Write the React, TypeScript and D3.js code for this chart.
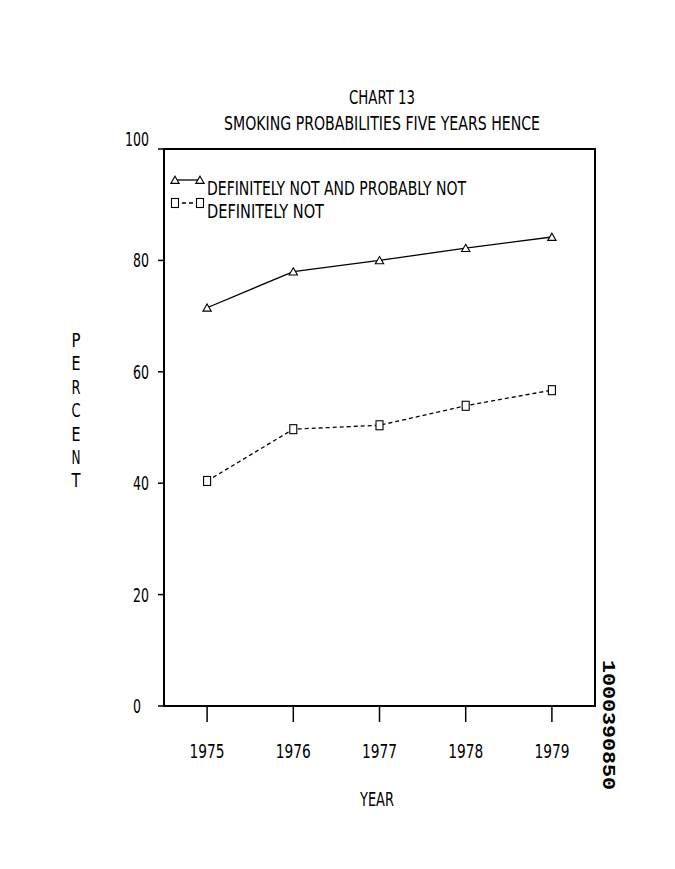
import React from "react";
import * as d3 from "d3";

const years = [1975, 1976, 1977, 1978, 1979];
const notAndProbablyNot = [71.5, 78.0, 80.0, 82.2, 84.2];
const definitelyNot = [40.4, 49.7, 50.4, 53.9, 56.7];
const yTicks = [0, 20, 40, 60, 80, 100];
const titleLines = ["CHART 13", "SMOKING PROBABILITIES FIVE YEARS HENCE"];
const seriesNames = ["DEFINITELY NOT AND PROBABLY NOT", "DEFINITELY NOT"];
const yLabel = "PERCENT";
const xLabel = "YEAR";
const docNumber = "1000390850";

const FONT = "'Liberation Sans Narrow', 'DejaVu Sans Condensed', 'Roboto Condensed', 'Liberation Sans', sans-serif";

const W = 675;
const H = 869;
const left = 164;
const right = 595;
const top = 149;
const bottom = 706;

export default function App() {
  const x = d3.scaleLinear().domain([1974.5, 1979.5]).range([left, right]);
  const y = d3.scaleLinear().domain([0, 100]).range([bottom, top]);

  const line = d3
    .line<number>()
    .x((_, i) => x(years[i]))
    .y((d) => y(d));

  const tri = d3.symbol(d3.symbolTriangle, 30)() as string;

  const Tri = ({ cx, cy }: { cx: number; cy: number }) => (
    <path d={tri} transform={`translate(${cx},${cy + 1})`} fill="white" stroke="black" strokeWidth={1.1} />
  );
  const Sq = ({ cx, cy }: { cx: number; cy: number }) => (
    <rect x={cx - 3.5} y={cy - 4.5} width={7} height={9} fill="white" stroke="black" strokeWidth={1.1} />
  );

  const legendX1 = 175;
  const legendX2 = 200;
  const legendY = [180, 203];

  return (
    <svg
      width={W}
      height={H}
      viewBox={`0 0 ${W} ${H}`}
      style={{ position: "absolute", left: 0, top: 0, background: "white" }}
      fontFamily={FONT}
    >
      <rect x={0} y={0} width={W} height={H} fill="white" />

      {/* titles */}
      <text x={382} y={104} textAnchor="middle" fontSize={20} textLength={66} lengthAdjust="spacingAndGlyphs">
        {titleLines[0]}
      </text>
      <text x={382} y={130} textAnchor="middle" fontSize={20} textLength={316} lengthAdjust="spacingAndGlyphs">
        {titleLines[1]}
      </text>

      {/* frame */}
      <rect x={left} y={top} width={right - left} height={bottom - top} fill="none" stroke="black" strokeWidth={2} />

      {/* y ticks */}
      {yTicks.map((t) => {
        const s = String(t);
        return (
          <g key={t}>
            <line x1={left - 6} x2={left} y1={y(t)} y2={y(t)} stroke="black" strokeWidth={1.5} />
            <text
              x={t === 0 ? left - 23 : left - 15}
              y={y(t) + (t === 100 ? -3 : 7)}
              textAnchor="end"
              fontSize={19}
              textLength={s.length * 8}
              lengthAdjust="spacingAndGlyphs"
            >
              {s}
            </text>
          </g>
        );
      })}

      {/* x ticks */}
      {years.map((yr) => (
        <g key={yr}>
          <line x1={x(yr)} x2={x(yr)} y1={bottom} y2={bottom + 16} stroke="black" strokeWidth={1.5} />
          <text x={x(yr)} y={bottom + 52} textAnchor="middle" fontSize={19} textLength={35} lengthAdjust="spacingAndGlyphs">
            {yr}
          </text>
        </g>
      ))}

      {/* axis labels */}
      <text x={377} y={806} textAnchor="middle" fontSize={20} textLength={34} lengthAdjust="spacingAndGlyphs">
        {xLabel}
      </text>
      {yLabel.split("").map((ch, i) => (
        <text key={i} x={76} y={347 + i * 23.4} textAnchor="middle" fontSize={19} textLength={9} lengthAdjust="spacingAndGlyphs">
          {ch}
        </text>
      ))}

      {/* series lines */}
      <path d={line(notAndProbablyNot) as string} fill="none" stroke="black" strokeWidth={1.3} />
      <path d={line(definitelyNot) as string} fill="none" stroke="black" strokeWidth={1.3} strokeDasharray="4,3" />

      {notAndProbablyNot.map((v, i) => (
        <Tri key={"t" + i} cx={x(years[i])} cy={y(v)} />
      ))}
      {definitelyNot.map((v, i) => (
        <Sq key={"s" + i} cx={x(years[i])} cy={y(v)} />
      ))}

      {/* legend */}
      <line x1={legendX1} x2={legendX2} y1={legendY[0]} y2={legendY[0]} stroke="black" strokeWidth={1.3} />
      <Tri cx={legendX1} cy={legendY[0]} />
      <Tri cx={legendX2} cy={legendY[0]} />
      <text x={207} y={195} fontSize={19} textLength={259} lengthAdjust="spacingAndGlyphs">
        {seriesNames[0]}
      </text>

      <line x1={legendX1} x2={legendX2} y1={legendY[1]} y2={legendY[1]} stroke="black" strokeWidth={1.3} strokeDasharray="4,3" />
      <Sq cx={legendX1} cy={legendY[1]} />
      <Sq cx={legendX2} cy={legendY[1]} />
      <text x={207} y={218} fontSize={19} textLength={117} lengthAdjust="spacingAndGlyphs">
        {seriesNames[1]}
      </text>

      {/* document number, rotated */}
      <text
        transform="translate(603,660) rotate(90)"
        fontFamily="'Liberation Mono', 'DejaVu Sans Mono', monospace"
        fontWeight="bold"
        fontSize={19}
        textLength={130}
        lengthAdjust="spacingAndGlyphs"
      >
        {docNumber}
      </text>
    </svg>
  );
}
